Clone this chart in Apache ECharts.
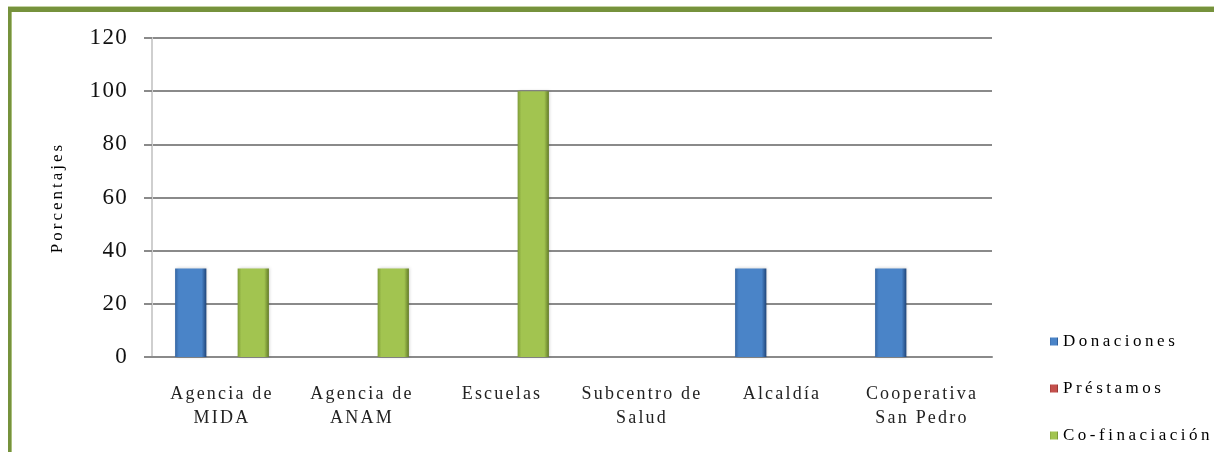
<!DOCTYPE html>
<html>
<head>
<meta charset="utf-8">
<script src="https://cdn.jsdelivr.net/npm/echarts@6/dist/echarts.min.js"></script>
<style>
  html, body { margin: 0; padding: 0; background: #fff; }
  #chart { width: 1214px; height: 452px; }
</style>
</head>
<body>
<div id="chart"></div>
<script>
// Participación de instituciones por tipo de financiamiento (%)
const categories = ['Agencia de\nMIDA', 'Agencia de\nANAM', 'Escuelas', 'Subcentro de\nSalud', 'Alcaldía', 'Cooperativa\nSan Pedro'];
const seriesNames = ['Donaciones', 'Préstamos', 'Co-finaciación'];
const donaciones = [33.3, 0, 0, 0, 33.3, 33.3];
const prestamos = [0, 0, 0, 0, 0, 0];
const cofinanciacion = [33.3, 33.3, 100, 0, 0, 0];
const yTicks = [0, 20, 40, 60, 80, 100, 120];
const yTitle = 'Porcentajes';

const serif = '"Liberation Serif", "DejaVu Serif", serif';

// Espaciado amplio de letras, como en la tipografía del gráfico original
function letterSpacingFor(s) {
  if (/^\d+$/.test(s)) return 1.3;
  if (seriesNames.includes(s)) return 3.5;
  if (s === yTitle) return 3;
  return 2.2;
}
const nativeFillText = CanvasRenderingContext2D.prototype.fillText;
CanvasRenderingContext2D.prototype.fillText = function (text, x, y, maxWidth) {
  const spaced = 'letterSpacing' in this;
  if (spaced) this.letterSpacing = letterSpacingFor(String(text).trim()) + 'px';
  if (maxWidth === undefined) nativeFillText.call(this, text, x, y);
  else nativeFillText.call(this, text, x, y, maxWidth);
  if (spaced) this.letterSpacing = '0px';
};

function barGradient(edgeL, mid, edgeR) {
  return new echarts.graphic.LinearGradient(0, 0, 1, 0, [
    { offset: 0, color: edgeL },
    { offset: 0.12, color: mid },
    { offset: 0.85, color: mid },
    { offset: 1, color: edgeR }
  ]);
}

const chart = echarts.init(document.getElementById('chart'), null, { renderer: 'canvas' });

const gradients = [
  barGradient('#3566a3', '#4a84c8', '#1f4478'),
  barGradient('#9a3432', '#c4504c', '#7a2624'),
  barGradient('#7f9c38', '#a2c450', '#627a28')
];
const values = [donaciones, prestamos, cofinanciacion];

const series = seriesNames.map((name, i) => ({
  name: name,
  type: 'bar',
  data: values[i],
  barGap: '0%',
  barCategoryGap: '33%',
  itemStyle: {
    color: gradients[i],
    shadowColor: 'rgba(0,0,0,0.18)',
    shadowBlur: 3,
    shadowOffsetX: 1
  }
}));

chart.setOption({
  animation: false,
  backgroundColor: '#ffffff',
  color: ['#3f75b6', '#c0504d', '#9bbb59'],
  grid: { left: 152, right: 222, top: 38, bottom: 95, containLabel: false },
  legend: {
    orient: 'vertical',
    left: 1045,
    top: 328,
    itemWidth: 8,
    itemHeight: 8,
    itemGap: 30,
    icon: 'rect',
    textStyle: { fontFamily: serif, fontSize: 17, color: '#000' },
    data: seriesNames
  },
  xAxis: {
    type: 'category',
    data: categories,
    axisLine: { show: true, lineStyle: { color: '#8a8a8a', width: 2 } },
    axisTick: { show: false },
    axisLabel: {
      fontFamily: serif,
      fontSize: 18,
      color: '#222',
      lineHeight: 24,
      margin: 25,
      interval: 0
    }
  },
  yAxis: {
    type: 'value',
    min: 0,
    max: 120,
    interval: 20,
    name: yTitle,
    nameLocation: 'middle',
    nameGap: 86,
    nameRotate: 90,
    nameTextStyle: { fontFamily: serif, fontSize: 17, color: '#000' },
    axisLine: { show: true, lineStyle: { color: '#cfcfcf', width: 2 } },
    axisTick: { show: true, length: 8, inside: false, lineStyle: { color: '#8a8a8a', width: 2 } },
    splitLine: { show: true, lineStyle: { color: '#8a8a8a', width: 2 } },
    axisLabel: {
      fontFamily: serif,
      fontSize: 23,
      color: '#111',
      margin: 24,
      formatter: v => (yTicks.includes(v) ? String(v) : '')
    }
  },
  series: series,
  graphic: [
    // marco verde superior e izquierdo
    { type: 'rect', shape: { x: 8, y: 7, width: 1206, height: 5 }, style: { fill: '#76923c' }, silent: true },
    { type: 'rect', shape: { x: 8, y: 6, width: 1206, height: 1 }, style: { fill: '#c4d3a4' }, silent: true },
    { type: 'rect', shape: { x: 8, y: 7, width: 3, height: 445 }, style: { fill: '#76923c' }, silent: true },
    { type: 'rect', shape: { x: 11, y: 12, width: 1, height: 440 }, style: { fill: '#a9bf7c' }, silent: true }
  ]
});
</script>
</body>
</html>
